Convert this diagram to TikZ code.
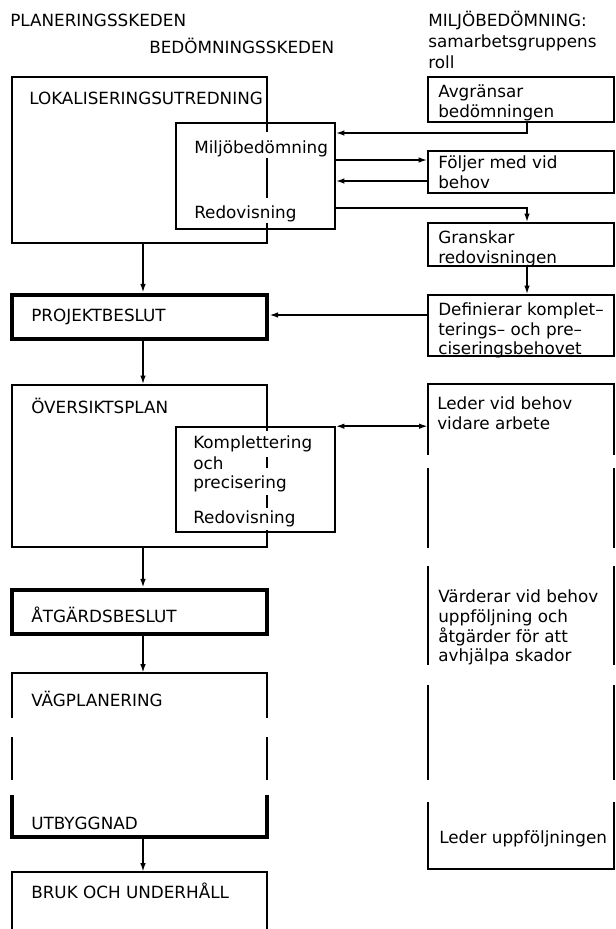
\documentclass[tikz,border=0pt]{standalone}
\usepackage{fontspec}
\setmainfont{DejaVu Sans}
\usetikzlibrary{arrows.meta,fit}
\begin{document}
\begin{tikzpicture}[x=0.75pt,y=-0.75pt,
  ln/.style={line width=1.2pt},
  tk/.style={line width=3.6pt},
  bx/.style={ln, draw, inner sep=0pt},
  tbx/.style={tk, draw, inner sep=0pt},
  wbx/.style={ln, draw, fill=white, inner sep=0pt},
  nbx/.style={inner sep=0pt},
  tip/.tip={Latex[length=6.5pt,width=4.2pt]},
  ar/.style={ln, -tip},
  tx/.style={anchor=base west, inner sep=0pt, font=\fontsize{12.6}{15}\selectfont},
]
\useasboundingbox (0,0) rectangle (616,929);

% headers
\node[tx] (h1) at (10,26) {PLANERINGSSKEDEN};
\node[tx] (h2) at (149,53) {BEDÖMNINGSSKEDEN};
\node[tx] (h3) at (428,26) {MILJÖBEDÖMNING:};
\node[tx] (h4) at (428,47) {samarbetsgruppens};
\node[tx] (h5) at (428,68) {roll};

% left column
\node[bx, fit={(12,77) (267,243)}] (lok) {};
\node[wbx, fit={(176,123) (335,229)}] (mb) {};
\draw[ln] (267,123) -- (267,132) (267,158) -- (267,198) (267,223) -- (267,229);
\node[tx] (t1) at (29,104) {LOKALISERINGSUTREDNING};
\node[tx] (t2) at (194,153) {Miljöbedömning};
\node[tx] (t3) at (194,218) {Redovisning};

\node[tbx, fit={(12,295) (267,339)}] (proj) {};
\node[tx] (t4) at (31,321) {PROJEKTBESLUT};

\node[bx, fit={(12,385) (267,547)}] (over) {};
\node[wbx, fit={(176,427) (335,532)}] (kp) {};
\draw[ln] (267,427) -- (267,431) (267,457) -- (267,468) (267,495) -- (267,508) (267,530) -- (267,532);
\node[tx] (t5) at (31,413) {ÖVERSIKTSPLAN};
\node[tx] (t6) at (193,448) {Komplettering};
\node[tx] (t7) at (193,469) {och};
\node[tx] (t8) at (193,488) {precisering};
\node[tx] (t9) at (193,523) {Redovisning};

\node[tbx, fit={(12,590) (267,634)}] (atg) {};
\node[tx] (t10) at (31,622) {ÅTGÄRDSBESLUT};

\node[nbx, fit={(12,673) (267,837)}] (vag) {};
\draw[ln] (12,718) -- (12,673) -- (267,673) -- (267,718);
\draw[ln] (12,737) -- (12,780) (267,737) -- (267,780);
\draw[tk, line join=miter] (12,795) -- (12,837) -- (267,837) -- (267,795);
\node[tx] (t11) at (31,706) {VÄGPLANERING};
\node[tx] (t12) at (31,829) {UTBYGGNAD};

\node[nbx, fit={(12,872) (267,929)}] (bruk) {};
\draw[ln] (12,930) -- (12,872) -- (267,872) -- (267,930);
\node[tx] (t13) at (31,898) {BRUK OCH UNDERHÅLL};

% right column
\node[bx, fit={(428,77) (614,122)}] (avg) {};
\node[tx] (r1) at (438,97) {Avgränsar};
\node[tx] (r2) at (438,117) {bedömningen};

\node[bx, fit={(428,151) (614,193)}] (fol) {};
\node[tx] (r3) at (438,168) {Följer med vid};
\node[tx] (r4) at (438,188) {behov};

\node[bx, fit={(428,223) (614,266)}] (gran) {};
\node[tx] (r5) at (438,243) {Granskar};
\node[tx] (r6) at (438,263) {redovisningen};

\node[bx, fit={(428,295) (614,356)}] (def) {};
\node[tx] (r7) at (438,315) {Definierar komplet–};
\node[tx] (r8) at (438,335) {terings– och pre–};
\node[tx] (r9) at (438,354) {ciseringsbehovet};

\node[nbx, fit={(428,384) (614,869)}] (led) {};
\draw[ln] (428,455) -- (428,384) -- (614,384) -- (614,455);
\draw[ln] (428,468) -- (428,548) (614,468) -- (614,548);
\draw[ln] (428,566) -- (428,665) (614,566) -- (614,665);
\draw[ln] (428,685) -- (428,780) (614,685) -- (614,780);
\draw[ln] (428,802) -- (428,869) -- (614,869) -- (614,802);
\node[tx] (r10) at (437,409) {Leder vid behov};
\node[tx] (r11) at (437,429) {vidare arbete};
\node[tx] (r12) at (438,602) {Värderar vid behov};
\node[tx] (r13) at (438,622) {uppföljning och};
\node[tx] (r14) at (438,642) {åtgärder för att};
\node[tx] (r15) at (438,661) {avhjälpa skador};
\node[tx] (r16) at (439,843) {Leder uppföljningen};

% main flow arrows (at x = 143)
\coordinate (mx) at (143,0);
\draw[ar] (lok.south -| mx) -- (proj.north -| mx);
\draw[ar] (proj.south -| mx) -- (over.north -| mx);
\draw[ar] (over.south -| mx) -- (atg.north -| mx);
\draw[ar] (atg.south -| mx) -- (vag.north -| mx);
\draw[ar] ([yshift=-1.5pt]vag.south -| mx) -- (bruk.north -| mx);

% right-side connectors
\coordinate (ax) at (527,0);
\draw[ar] (avg.south -| ax) |- (mb.east |- 0,133);
\draw[ar] (mb.east |- 0,160) -- (fol.west |- 0,160);
\draw[ar] (fol.west |- 0,181) -- (mb.east |- 0,181);
\draw[ar] (mb.east |- 0,208) -| (gran.north -| ax);
\draw[ar] (gran.south -| ax) -- (def.north -| ax);
\draw[ar] (def.west |- 0,315) -- (proj.east |- 0,315);
\draw[ln, tip-tip] (kp.north east) -- (led.west |- kp.north east);
\end{tikzpicture}
\end{document}
